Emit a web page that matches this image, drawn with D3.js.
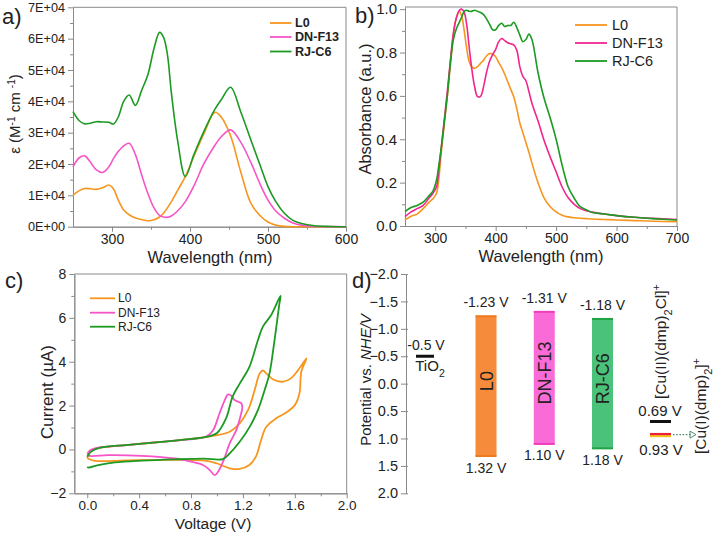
<!DOCTYPE html>
<html><head><meta charset="utf-8">
<script src="https://cdn.jsdelivr.net/npm/d3@7"></script>
<style>body{margin:0;background:#fff}</style>
</head><body><svg id="c" width="713" height="533"></svg>
<script>
// ---------------- DATA ----------------
const seriesNames = ["L0", "DN-F13", "RJ-C6"];

// Panel a: molar extinction coefficient
const wlA = [250, 258, 265, 272, 280, 288, 296, 302, 308, 315, 322, 330, 338, 346, 354, 361, 366, 371, 376, 384, 394, 405, 418, 432, 440, 452, 465, 478, 490, 500, 510, 521, 532, 543, 560, 580, 600];
const epsL0 = [10100, 11500, 12200, 12100, 11900, 12400, 13300, 12000, 8500, 5300, 3800, 2800, 2300, 1900, 2200, 3100, 4300, 6000, 7900, 11500, 16000, 22500, 29800, 36500, 35000, 29000, 17500, 7500, 3500, 1500, 500, 100, 0, 0, 0, 0, 0];
const epsDN = [19100, 22000, 22600, 20700, 18100, 17300, 19100, 21800, 24000, 25800, 26600, 23000, 16500, 10600, 5900, 3600, 3100, 3000, 3400, 5000, 8000, 13000, 20200, 26000, 28700, 30900, 27000, 20500, 13500, 8500, 5000, 2700, 1200, 500, 150, 30, 0];
const epsRJ = [36700, 33800, 32800, 33000, 33500, 33400, 33300, 32800, 35000, 40000, 42000, 38700, 43500, 48500, 57000, 62000, 60500, 55000, 43000, 27700, 16000, 23000, 30500, 37500, 40500, 44500, 36700, 27700, 19500, 12800, 8000, 4300, 2000, 1000, 300, 80, 0];
const yTicksA = [0, 10000, 20000, 30000, 40000, 50000, 60000, 70000];
const yTickLabelsA = ["0E+00", "1E+04", "2E+04", "3E+04", "4E+04", "5E+04", "6E+04", "7E+04"];
const xTicksA = [300, 400, 500, 600];

// Panel b: normalized absorbance
const wlB = [250, 260, 270, 280, 290, 296, 302, 306, 310, 315, 320, 325, 330, 335, 340, 344, 348, 352, 356, 360, 365, 370, 375, 380, 385, 390, 395, 400, 405, 410, 415, 420, 425, 430, 435, 440, 445, 450, 455, 460, 470, 480, 490, 500, 510, 520, 530, 540, 550, 560, 580, 600, 630, 660, 700];
const absL0 = [0.028, 0.045, 0.055, 0.08, 0.11, 0.125, 0.15, 0.22, 0.34, 0.47, 0.60, 0.74, 0.88, 0.96, 0.99, 0.965, 0.9, 0.82, 0.76, 0.735, 0.727, 0.735, 0.75, 0.765, 0.785, 0.795, 0.793, 0.78, 0.755, 0.73, 0.70, 0.665, 0.63, 0.595, 0.54, 0.475, 0.43, 0.385, 0.34, 0.29, 0.2, 0.13, 0.09, 0.065, 0.05, 0.042, 0.038, 0.036, 0.034, 0.032, 0.03, 0.028, 0.025, 0.022, 0.02];
const absDN = [0.043, 0.065, 0.08, 0.095, 0.13, 0.15, 0.18, 0.26, 0.36, 0.49, 0.62, 0.76, 0.89, 0.96, 0.995, 1.0, 0.985, 0.93, 0.83, 0.735, 0.645, 0.597, 0.598, 0.643, 0.71, 0.76, 0.79, 0.815, 0.85, 0.865, 0.855, 0.845, 0.84, 0.835, 0.81, 0.734, 0.69, 0.67, 0.62, 0.566, 0.485, 0.396, 0.32, 0.25, 0.18, 0.13, 0.1, 0.08, 0.07, 0.064, 0.055, 0.048, 0.04, 0.035, 0.03];
const absRJ = [0.066, 0.085, 0.095, 0.11, 0.14, 0.16, 0.21, 0.28, 0.36, 0.48, 0.60, 0.75, 0.86, 0.91, 0.94, 0.965, 0.99, 0.995, 0.99, 0.99, 0.995, 0.99, 0.985, 0.975, 0.955, 0.93, 0.905, 0.905, 0.925, 0.935, 0.92, 0.925, 0.925, 0.94, 0.915, 0.88, 0.85, 0.86, 0.885, 0.86, 0.708, 0.59, 0.5, 0.4, 0.28, 0.18, 0.128, 0.089, 0.075, 0.062, 0.055, 0.048, 0.04, 0.034, 0.028];
const yTicksB = [0, 0.2, 0.4, 0.6, 0.8, 1.0];
const xTicksB = [300, 400, 500, 600, 700];

// Panel c: cyclic voltammetry loops (voltage V, current uA)
const cvL0V = [0, 0.03, 0.1, 0.3, 0.6, 0.9, 1.0, 1.098, 1.175, 1.24, 1.29, 1.33, 1.355, 1.38, 1.43, 1.51, 1.57, 1.636, 1.69, 1.65, 1.636, 1.6, 1.53, 1.457, 1.38, 1.34, 1.30, 1.25, 1.175, 1.098, 0.995, 0.918, 0.6, 0.3, 0.06, 0];
const cvL0I = [-0.4, -0.05, 0.08, 0.2, 0.36, 0.55, 0.65, 0.81, 1.19, 1.8, 2.7, 3.47, 3.6, 3.47, 3.2, 3.09, 3.24, 3.7, 4.15, 3.54, 2.56, 2.02, 1.67, 1.42, 1.03, 0.43, -0.33, -0.71, -0.89, -0.86, -0.63, -0.52, -0.48, -0.5, -0.52, -0.4];
const cvDNV = [0, 0.02, 0.06, 0.3, 0.6, 0.85, 0.92, 0.97, 1.02, 1.06, 1.085, 1.11, 1.136, 1.188, 1.195, 1.18, 1.149, 1.098, 1.052, 1.008, 0.982, 0.944, 0.892, 0.8, 0.675, 0.418, 0.16, 0.02, 0];
const cvDNI = [-0.2, -0.05, 0.05, 0.2, 0.36, 0.5, 0.6, 0.88, 1.65, 2.25, 2.51, 2.45, 2.25, 2.1, 1.9, 1.49, 0.88, 0.28, -0.48, -1.02, -1.17, -0.94, -0.71, -0.56, -0.41, -0.29, -0.26, -0.29, -0.2];
const cvRJV = [0, 0.03, 0.1, 0.3, 0.55, 0.8, 0.9, 1.0, 1.07, 1.12, 1.175, 1.25, 1.316, 1.354, 1.418, 1.49, 1.48, 1.444, 1.405, 1.367, 1.316, 1.252, 1.175, 1.098, 1.046, 0.9, 0.675, 0.418, 0.213, 0.085, 0.01, 0];
const cvRJI = [-0.33, -0.1, 0.08, 0.2, 0.33, 0.48, 0.55, 0.75, 1.42, 2.4, 3.0, 3.77, 4.99, 5.6, 6.13, 7.0, 6.6, 5.0, 3.47, 2.7, 1.8, 1.03, 0.35, -0.18, -0.44, -0.42, -0.45, -0.51, -0.59, -0.71, -0.83, -0.8];
const xTicksC = [0, 0.4, 0.8, 1.2, 1.6, 2.0];
const yTicksC = [-2, 0, 2, 4, 6, 8];

// Panel d: energy levels (V vs NHE)
const lumo = [-1.23, -1.31, -1.18];
const homo = [1.32, 1.10, 1.18];
const tio2Level = -0.5;
const cuIILevel = 0.69;
const cuILevel = 0.93;
const yTicksD = [-2.0, -1.5, -1.0, -0.5, 0.0, 0.5, 1.0, 1.5, 2.0];

// ---------------- DRAW ----------------
const FONT = "Arial, 'Liberation Sans', sans-serif";
const AX = "#8a8a8a";
const TXT = "#222";
const lineCol = ["#f7961f", "#f655c8", "#1c9a22"];
const lineColB = ["#f7961f", "#f0268e", "#1c9a22"];
const barFill = ["#f68b3b", "#fa6bd8", "#4bc27a"];
const barEdge = ["#ee7a1c", "#f03dbd", "#22a246"];

const svg = d3.select("#c");

function styleAxis(sel, fs) {
  sel.attr("font-family", FONT).attr("font-size", fs || 12);
  sel.select(".domain").attr("stroke", AX);
  sel.selectAll(".tick line").attr("stroke", AX);
  sel.selectAll(".tick text").attr("fill", TXT);
}

function text(g, x, y, s, fs, anchor, extra) {
  const t = g.append("text").attr("x", x).attr("y", y).attr("font-family", FONT)
    .attr("font-size", fs).attr("fill", TXT).attr("text-anchor", anchor || "start").text(s);
  if (extra) extra(t);
  return t;
}

function boxAxes(x, y, cfg) {
  const [x0, x1] = x.range(), [yb, yt] = y.range();
  const g = svg.append("g");
  g.append("g").attr("transform", `translate(0,${yb})`)
    .call(d3.axisBottom(x).tickValues(cfg.xMinor).tickSize(3).tickSizeOuter(0).tickFormat(""))
    .call(styleAxis);
  g.append("g").attr("transform", `translate(0,${yb})`)
    .call(d3.axisBottom(x).tickValues(cfg.xMajor).tickSize(5).tickSizeOuter(0).tickPadding(2).tickFormat(cfg.xFmt))
    .call(styleAxis, cfg.xfs);
  g.append("g").attr("transform", `translate(${x0},0)`)
    .call(d3.axisLeft(y).tickValues(cfg.yMinor).tickSize(3).tickSizeOuter(0).tickFormat(""))
    .call(styleAxis);
  g.append("g").attr("transform", `translate(${x0},0)`)
    .call(d3.axisLeft(y).tickValues(cfg.yMajor).tickSize(5).tickSizeOuter(0).tickPadding(3).tickFormat(cfg.yFmt))
    .call(styleAxis, cfg.yfs);
  g.append("path").attr("d", `M${x0},${yt}H${x1}V${yb}`).attr("fill", "none").attr("stroke", AX);
  return g;
}

function legend(x0, x1, tx, ys, fs, bold, cols) {
  const g = svg.append("g");
  seriesNames.forEach((n, i) => {
    g.append("line").attr("x1", x0).attr("x2", x1).attr("y1", ys[i]).attr("y2", ys[i])
      .attr("stroke", cols[i]).attr("stroke-width", 1.8);
    text(g, tx, ys[i], n, fs, "start", t => t.attr("dominant-baseline", "central").attr("font-weight", bold ? "bold" : "normal"));
  });
}

// ===== Panel a =====
const xA = d3.scaleLinear().domain([250, 600]).range([73, 346]);
const yA = d3.scaleLinear().domain([0, 70000]).range([226.7, 7.3]);
boxAxes(xA, yA, {
  xMajor: xTicksA, xMinor: [350, 450, 550], xFmt: d3.format("d"), xfs: 14,
  yMajor: yTicksA, yMinor: [5000, 15000, 25000, 35000, 45000, 55000, 65000],
  yFmt: (d, i) => yTickLabelsA[i], yfs: 12.7
});
const lineA = d3.line().curve(d3.curveCatmullRom.alpha(0.5));
[epsL0, epsDN, epsRJ].forEach((arr, i) => {
  svg.append("path").attr("d", lineA(wlA.map((w, j) => [xA(w), yA(arr[j])])))
    .attr("fill", "none").attr("stroke", lineCol[i]).attr("stroke-width", 1.6);
});
legend(270, 291.5, 295, [23, 37, 51.5], 12.6, true, lineCol);
text(svg, 210, 263, "Wavelength (nm)", 16.5, "middle");
text(svg, 0, 0, "", 15, "middle", t => {
  t.attr("transform", "translate(20,114) rotate(-90)");
  t.append("tspan").text("\u03b5 (M");
  t.append("tspan").attr("baseline-shift", "super").attr("font-size", 10).text("-1");
  t.append("tspan").text(" cm ");
  t.append("tspan").attr("baseline-shift", "super").attr("font-size", 10).text("-1");
  t.append("tspan").text(")");
});
text(svg, 2, 24, "a)", 22, "start");

// ===== Panel b =====
const xB = d3.scaleLinear().domain([250, 700]).range([405, 677]);
const yB = d3.scaleLinear().domain([0, 1.01]).range([226, 7]);
boxAxes(xB, yB, {
  xMajor: xTicksB, xMinor: [350, 450, 550, 650], xFmt: d3.format("d"), xfs: 14,
  yMajor: yTicksB, yMinor: [0.1, 0.3, 0.5, 0.7, 0.9], yFmt: d3.format(".1f"), yfs: 15
});
[absL0, absDN, absRJ].forEach((arr, i) => {
  svg.append("path").attr("d", lineA(wlB.map((w, j) => [xB(w), yB(arr[j])])))
    .attr("fill", "none").attr("stroke", lineColB[i]).attr("stroke-width", 1.6);
});
legend(575, 607, 612, [25, 43, 61], 14.5, false, lineColB);
text(svg, 541, 262, "Wavelength (nm)", 16.5, "middle");
text(svg, 0, 0, "Absorbance (a.u.)", 16.5, "middle", t => t.attr("transform", "translate(371,109) rotate(-90)"));
text(svg, 355, 23, "b)", 22, "start");

// ===== Panel c =====
const xC = d3.scaleLinear().domain([-0.1, 2.0]).range([74.3, 346.7]);
const yC = d3.scaleLinear().domain([-2, 8]).range([493.3, 274]);
boxAxes(xC, yC, {
  xMajor: xTicksC, xMinor: [0.2, 0.6, 1.0, 1.4, 1.8], xFmt: d3.format(".1f"), xfs: 13.5,
  yMajor: yTicksC, yMinor: [-1, 1, 3, 5, 7], yFmt: d3.format("d"), yfs: 14
});
[[cvL0V, cvL0I], [cvDNV, cvDNI], [cvRJV, cvRJI]].forEach(([V, I], i) => {
  svg.append("path").attr("d", lineA(V.map((v, j) => [xC(v), yC(I[j])])))
    .attr("fill", "none").attr("stroke", lineCol[i]).attr("stroke-width", 1.8);
});
legend(90, 115, 118, [298.3, 312.7, 326.7], 12, false, lineCol);
text(svg, 213, 529, "Voltage (V)", 15.5, "middle");
text(svg, 0, 0, "", 17, "middle", t => {
  t.attr("transform", "translate(53,392) rotate(-90)");
  t.text("Current (\u00b5A)");
});
text(svg, 5, 288, "c)", 22, "start");

// ===== Panel d =====
const yD = d3.scaleLinear().domain([-2, 2]).range([274, 493.3]);
const xD = d3.scalePoint().domain(seriesNames).range([486, 602.5]);
const gD = svg.append("g");
gD.append("g").attr("transform", "translate(406,0)")
  .call(d3.axisLeft(yD).tickValues(yTicksD).tickSize(5).tickSizeOuter(0).tickPadding(3).tickFormat(d3.format(".1f")))
  .call(styleAxis, 14.5);
gD.append("g").attr("transform", "translate(406,0)")
  .call(d3.axisLeft(yD).tickValues(yTicksD).tickSize(-2).tickSizeOuter(0).tickFormat(""))
  .call(styleAxis);
text(svg, 0, 0, "", 15, "middle", t => {
  t.attr("transform", "translate(371,380) rotate(-90)");
  t.append("tspan").text("Potential vs. ");
  t.append("tspan").attr("font-style", "italic").text("NHE/V");
});
text(svg, 352, 288, "d)", 22, "start");

const barW = 21;
seriesNames.forEach((n, i) => {
  const cx = xD(n), y0 = yD(lumo[i]), y1 = yD(homo[i]);
  gD.append("rect").attr("x", cx - barW / 2).attr("y", y0).attr("width", barW).attr("height", y1 - y0)
    .attr("fill", barFill[i]);
  [y0, y1].forEach(yy => gD.append("line").attr("x1", cx - barW / 2).attr("x2", cx + barW / 2)
    .attr("y1", yy).attr("y2", yy).attr("stroke", barEdge[i]).attr("stroke-width", 2));
  text(gD, 0, 0, n, 18, "middle", t => t.attr("transform", `translate(${cx + 6.5},${(y0 + y1) / 2 - 5}) rotate(-90)`));
  text(gD, cx, y0 - 9, lumo[i].toFixed(2) + " V", 14, "middle");
  text(gD, cx, y1 + 16.5, homo[i].toFixed(2) + " V", 14, "middle");
});

// TiO2
const yT = yD(tio2Level);
gD.append("line").attr("x1", 416).attr("x2", 434).attr("y1", yT).attr("y2", yT).attr("stroke", "#111").attr("stroke-width", 3);
text(gD, 426, yT - 6, tio2Level.toFixed(1) + " V", 14, "middle");
text(gD, 430, yT + 15, "", 15, "middle", t => {
  t.append("tspan").text("TiO");
  t.append("tspan").attr("baseline-shift", "sub").attr("font-size", 10.5).text("2");
});

// Copper redox couple
const yCu2 = yD(cuIILevel), yCu1 = yD(cuILevel);
gD.append("line").attr("x1", 650).attr("x2", 671).attr("y1", yCu2).attr("y2", yCu2).attr("stroke", "#111").attr("stroke-width", 3);
gD.append("line").attr("x1", 650).attr("x2", 671).attr("y1", yCu1 + 0.8).attr("y2", yCu1 + 0.8).attr("stroke", "#f3c21a").attr("stroke-width", 3.5);
gD.append("line").attr("x1", 650).attr("x2", 671).attr("y1", yCu1 - 0.6).attr("y2", yCu1 - 0.6).attr("stroke", "#ea1f3a").attr("stroke-width", 2.2);
text(gD, 660, yCu2 - 5, cuIILevel.toFixed(2) + " V", 15, "middle");
text(gD, 661, yCu1 + 20, cuILevel.toFixed(2) + " V", 15, "middle");
gD.append("line").attr("x1", 673).attr("x2", 691).attr("y1", yCu1).attr("y2", yCu1)
  .attr("stroke", "#4f8f6c").attr("stroke-width", 1.4).attr("stroke-dasharray", "1.6,1.6");
gD.append("path").attr("d", `M690,${yCu1 - 3.5}L696,${yCu1}L690,${yCu1 + 3.5}Z`).attr("fill", "none").attr("stroke", "#4f8f6c").attr("stroke-width", 1);

text(gD, 0, 0, "", 15.5, "middle", t => {
  t.attr("transform", "translate(665.5,341.5) rotate(-90)");
  t.append("tspan").text("[Cu(II)(dmp)");
  t.append("tspan").attr("baseline-shift", "sub").attr("font-size", 11).text("2");
  t.append("tspan").text("Cl]");
  t.append("tspan").attr("baseline-shift", "super").attr("font-size", 11).text("+");
});
text(gD, 0, 0, "", 15.5, "middle", t => {
  t.attr("transform", "translate(705.5,406) rotate(-90)");
  t.append("tspan").text("[Cu(I)(dmp)");
  t.append("tspan").attr("baseline-shift", "sub").attr("font-size", 11).text("2");
  t.append("tspan").text("]");
  t.append("tspan").attr("baseline-shift", "super").attr("font-size", 11).text("+");
});
</script>
</body></html>
